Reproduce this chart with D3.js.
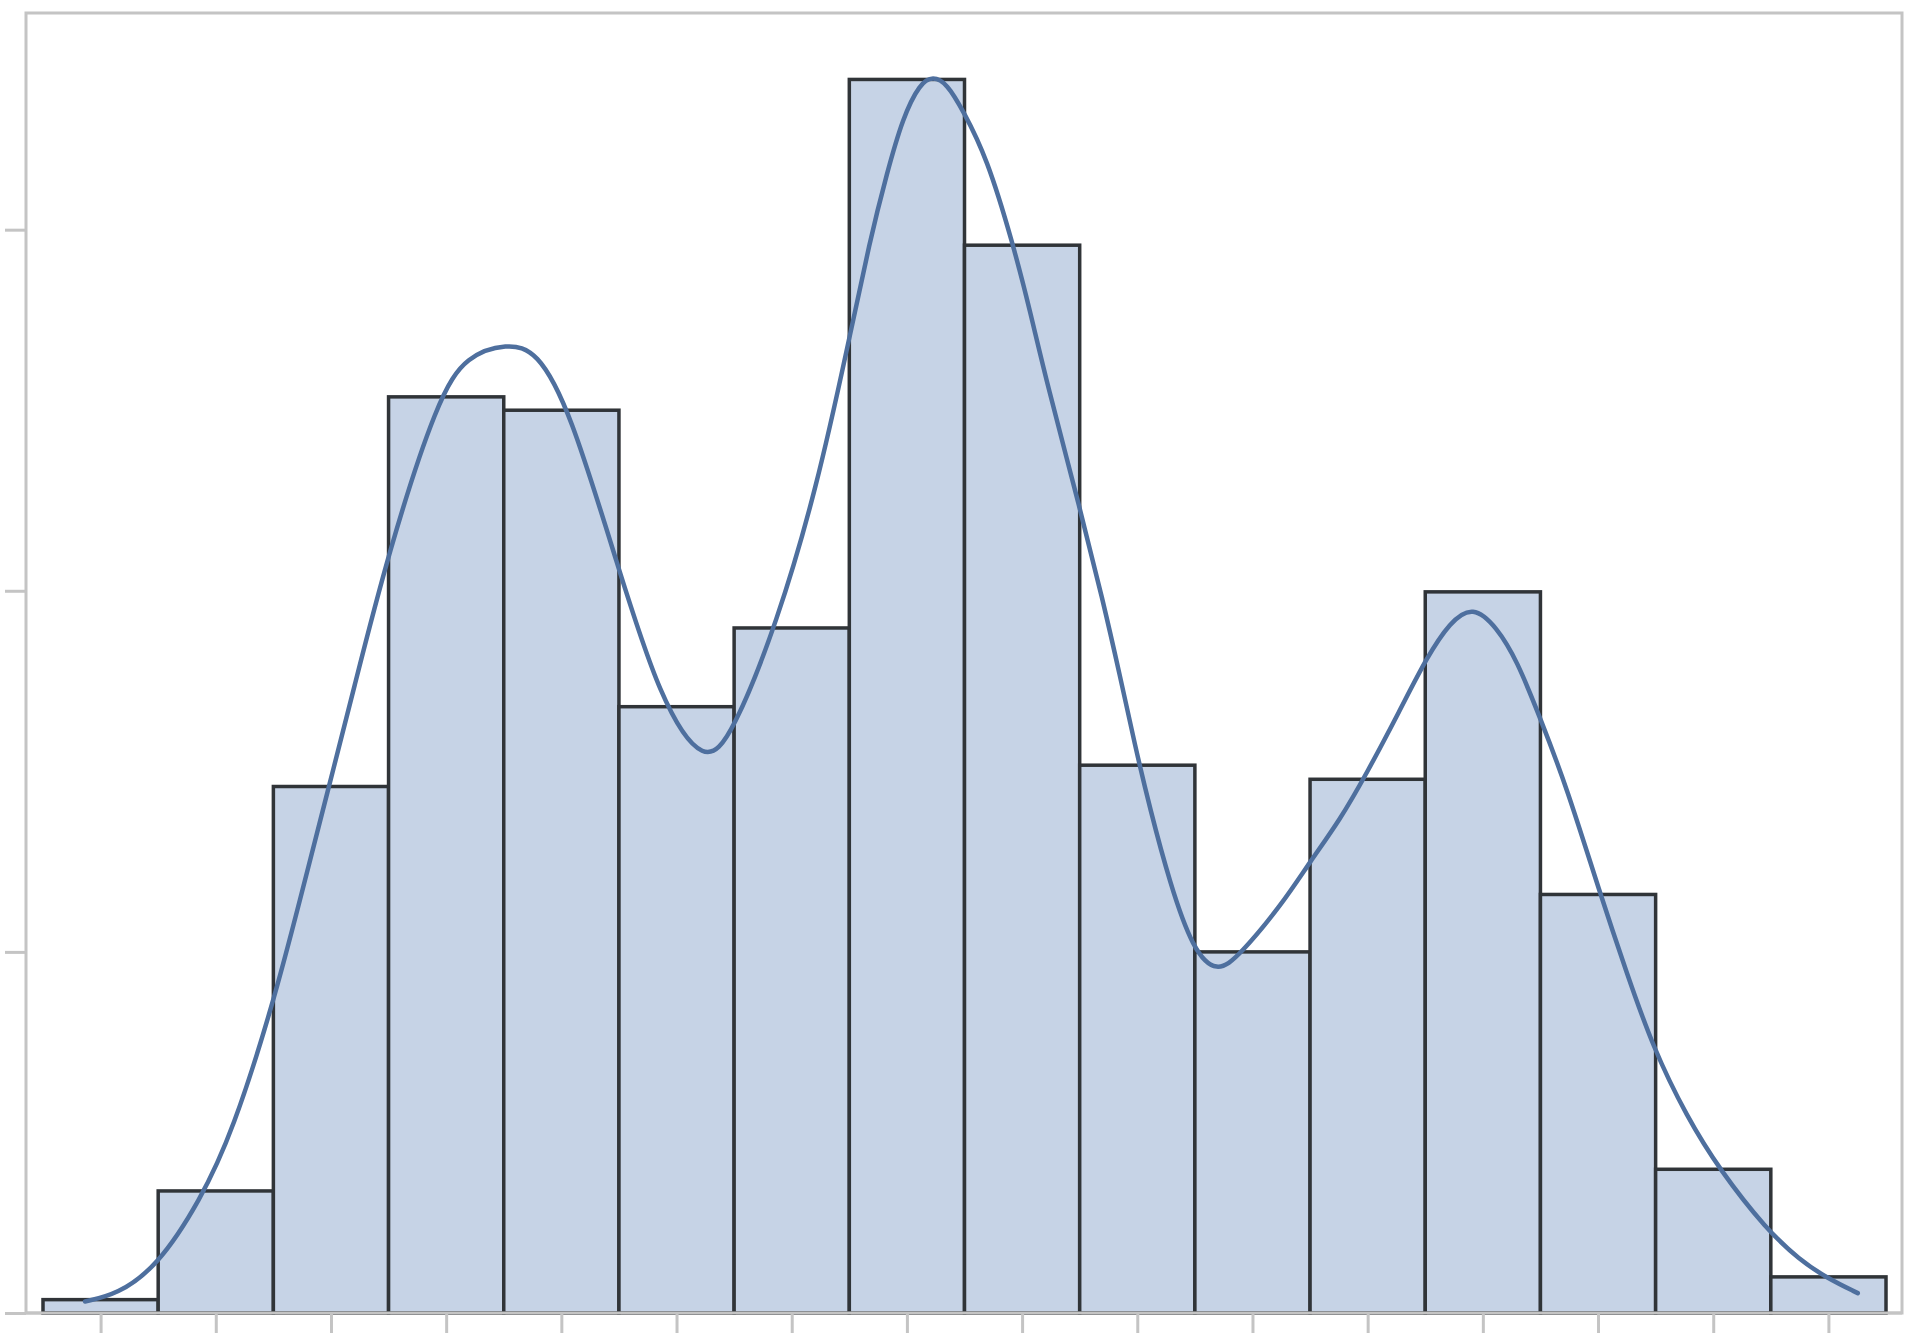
<!DOCTYPE html>
<html>
<head>
<meta charset="utf-8">
<script src="https://cdn.jsdelivr.net/npm/d3@7"></script>
<style>
  html, body { margin: 0; padding: 0; background: #ffffff; }
  svg { display: block; }
</style>
</head>
<body>
<svg id="chart" width="1920" height="1344"></svg>
<script>
// ---- data ----
const binEdges = [0,1,2,3,4,5,6,7,8,9,10,11,12,13,14,15,16];
const binValues = [0.037, 0.338, 1.458, 2.537, 2.500, 1.679, 1.897, 3.416, 2.957, 1.517, 1.000, 1.478, 1.997, 1.159, 0.398, 0.100];
const xTicks = [0.5,1.5,2.5,3.5,4.5,5.5,6.5,7.5,8.5,9.5,10.5,11.5,12.5,13.5,14.5,15.5];
const yTicks = [0, 1, 2, 3];
const curveX = [0.365,0.642,0.990,1.363,1.649,1.997,2.231,2.474,2.691,2.995,3.429,3.681,4.028,4.288,4.575,4.983,5.356,5.747,5.990,6.372,6.719,6.988,7.179,7.326,7.465,7.613,7.726,7.847,7.986,8.194,8.420,8.568,8.715,9.002,9.201,9.349,9.479,9.609,9.783,9.983,10.191,10.391,10.764,10.998,11.259,11.493,11.780,12.014,12.214,12.413,12.622,12.795,12.995,13.229,13.516,13.750,13.976,14.271,14.557,14.965,15.252,15.486,15.755];
const curveY = [0.032,0.051,0.128,0.310,0.504,0.855,1.144,1.448,1.719,2.104,2.536,2.652,2.685,2.666,2.500,2.076,1.697,1.510,1.606,1.910,2.287,2.680,2.971,3.156,3.311,3.405,3.425,3.405,3.331,3.200,2.962,2.777,2.575,2.229,1.974,1.766,1.573,1.398,1.190,1.005,0.940,0.991,1.135,1.249,1.365,1.495,1.669,1.816,1.913,1.960,1.899,1.808,1.650,1.456,1.163,0.941,0.736,0.543,0.396,0.230,0.147,0.097,0.055];

// ---- layout ----
const frame = { left: 26, right: 1902, top: 13, bottom: 1313 };
const plotX0 = 43, plotX1 = 1886;

const svg = d3.select("#chart");
const x = d3.scaleLinear().domain([0, 16]).range([plotX0, plotX1]);
const y = d3.scaleLinear().domain([0, 3.6]).range([frame.bottom, frame.top]);

const frameColor = "#c4c4c4";

// frame
svg.append("rect")
  .attr("x", frame.left).attr("y", frame.top)
  .attr("width", frame.right - frame.left).attr("height", frame.bottom - frame.top)
  .attr("fill", "none").attr("stroke", frameColor).attr("stroke-width", 3);

// bars
const bins = binValues.map((v, i) => ({ x0: binEdges[i], x1: binEdges[i + 1], v }));
svg.append("g").selectAll("rect").data(bins).join("rect")
  .attr("x", d => x(d.x0))
  .attr("y", d => y(d.v))
  .attr("width", d => x(d.x1) - x(d.x0))
  .attr("height", d => y(0) - y(d.v))
  .attr("fill", "#c6d3e6")
  .attr("stroke", "#303438")
  .attr("stroke-width", 3.5);

// density curve
const pts = curveX.map((cx, i) => [cx, curveY[i]]);
svg.append("path")
  .datum(pts)
  .attr("fill", "none")
  .attr("stroke", "#4e6f9e")
  .attr("stroke-width", 4.5)
  .attr("stroke-linecap", "round")
  .attr("d", d3.line().x(d => x(d[0])).y(d => y(d[1])).curve(d3.curveBasis));

// axes
const xAxis = svg.append("g")
  .attr("transform", `translate(0,${frame.bottom})`)
  .call(d3.axisBottom(x).tickValues(xTicks).tickSize(20).tickSizeOuter(0).tickFormat(""));
const yAxis = svg.append("g")
  .attr("transform", `translate(${frame.left},0)`)
  .call(d3.axisLeft(y).tickValues(yTicks).tickSize(21).tickSizeOuter(0).tickFormat(""));

[xAxis, yAxis].forEach(g => {
  g.select(".domain").remove();
  g.selectAll(".tick line").attr("stroke", frameColor).attr("stroke-width", 3);
});

// baseline
svg.append("line")
  .attr("x1", frame.left).attr("x2", frame.right)
  .attr("y1", frame.bottom).attr("y2", frame.bottom)
  .attr("stroke", frameColor).attr("stroke-width", 3);
</script>
</body>
</html>
